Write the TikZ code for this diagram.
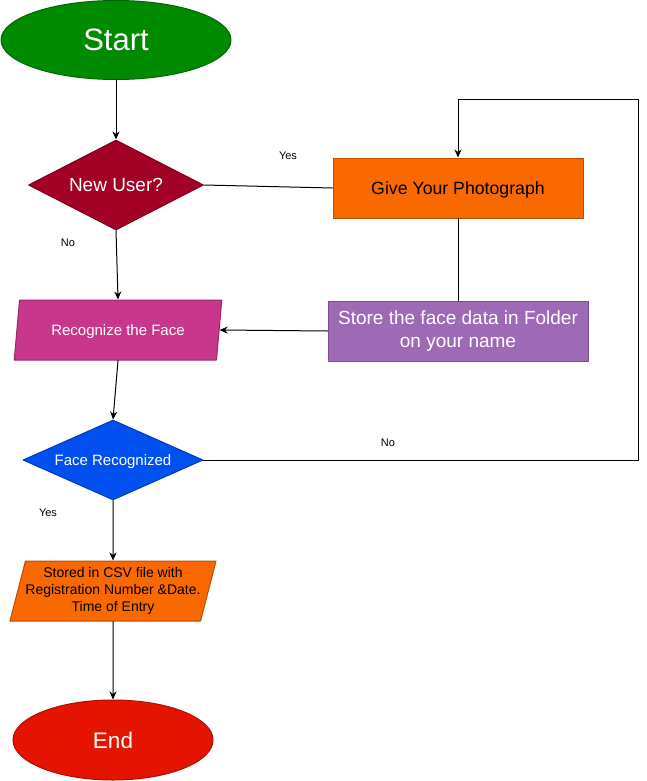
\documentclass[tikz,border=0pt]{standalone}
\usepackage{fontspec}
\setmainfont{Liberation Sans}
\usepackage{tikz}
\usetikzlibrary{arrows.meta,shapes.geometric}
\definecolor{startgreen}{HTML}{008A00}
\definecolor{usercrimson}{HTML}{A20025}
\definecolor{facemagenta}{HTML}{C8378C}
\definecolor{photoorange}{HTML}{FA6800}
\definecolor{storepurple}{HTML}{9F6AB5}
\definecolor{faceblue}{HTML}{0050EF}
\definecolor{endred}{HTML}{E51400}
\newcommand{\fsz}[2]{\fontsize{#1}{#2}\selectfont}

\begin{document}
\begin{tikzpicture}[x=1pt,y=-1pt,line width=1pt,line cap=round,line join=round,>={Stealth[length=8pt,width=7pt,inset=2.5pt]},
 terminal/.style={ellipse,draw=#1!75!black,fill=#1,text=white,inner sep=0pt,text depth=0pt},
 decision/.style={diamond,draw=#1!75!black,fill=#1,text=white,inner sep=0pt,aspect=2,text depth=0pt},
 inout/.style={trapezium,trapezium left angle=71.6,trapezium right angle=108.4,trapezium stretches=true,draw=#1!75!black,fill=#1,inner sep=0pt,align=center},
 process/.style={rectangle,draw=#1!75!black,fill=#1,inner sep=0pt,align=center},
 tag/.style={inner sep=0pt,font=\fsz{11}{13}}]
 	\useasboundingbox (0,0) rectangle (647,781);
 	\node[terminal=startgreen,minimum width=230,minimum height=79,font=\fsz{31}{37}] (start) at (116,40) {Start};
 	\node[decision=usercrimson,minimum width=175,minimum height=90,font=\fsz{19}{23}] (newuser) at (116,185) {New User?};
 	\node[process=photoorange,minimum width=250,minimum height=60,font=\fsz{17.7}{21},text depth=0pt] (photo) at (458,188) {Give Your Photograph};
 	\node[process=storepurple,minimum width=260,minimum height=60,text=white,font=\fsz{19}{23}] (store) at (458,331) {Store the face data in Folder\\on your name};
 	\node[inout=facemagenta,minimum width=208,minimum height=60,text=white,font=\fsz{15}{18},text depth=0pt] (recog) at (118,330) {Recognize the Face};
 	\node[decision=faceblue,minimum width=180,minimum height=80,font=\fsz{15}{18}] (facerec) at (113,460) {Face Recognized};
 	\node[inout=photoorange,minimum width=198,minimum height=60,font=\fsz{14}{16.8}] (csv) at (113,591) {Stored in CSV file with\\Registration Number \&Date.\\Time of Entry};
 	\node[terminal=endred,minimum width=200,minimum height=80,font=\fsz{22.5}{27}] (finish) at (113,740) {End};
 	\node[tag] (yesuser) at (288,156) {Yes};
 	\node[tag] (nouser) at (68,243) {No};
 	\node[tag] (noface) at (388,443) {No};
 	\node[tag] (yesface) at (48,513) {Yes};
 	\coordinate (loop) at (638,100);
 	\draw[->] (start) -- (newuser);
 	\draw (newuser.east) -- (photo.west);
 	\draw (photo.south) -- (store.north);
 	\draw[->] (store.west) -- (recog.east);
 	\draw[->] (newuser.south) -- (recog.north);
 	\draw[->] (recog.south) -- (facerec.north);
 	\draw[->] (facerec.east) -| (loop) -| (photo.north);
 	\draw[->] (facerec.south) -- (csv.north);
 	\draw[->] (csv.south) -- (finish.north);
\end{tikzpicture}
\end{document}
